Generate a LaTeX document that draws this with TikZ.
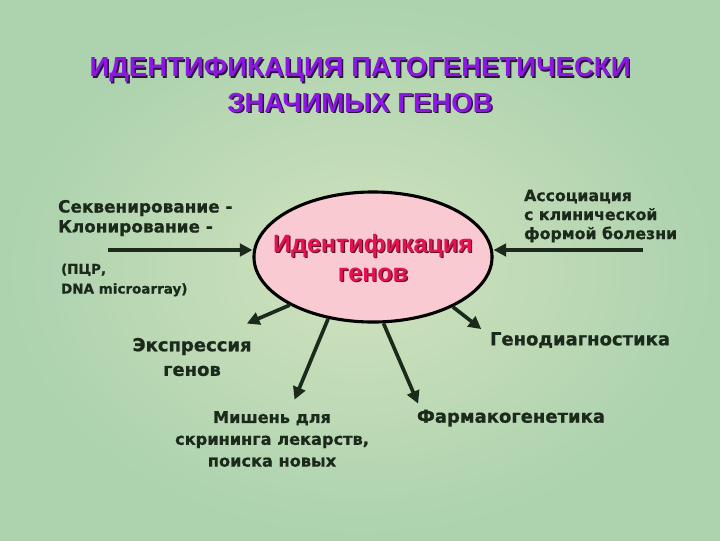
\documentclass[tikz,border=0pt]{standalone}
\usepackage{fontspec}
\setmainfont{Liberation Sans}
\newfontfamily\dejavu[BoldFeatures={FakeBold=0.8}]{DejaVu Sans}
\usetikzlibrary{arrows.meta,shapes.geometric}

\definecolor{bggreen}{RGB}{172,210,174}
\definecolor{bglight}{RGB}{210,226,190}
\definecolor{titleviolet}{RGB}{140,22,228}
\definecolor{titleshade}{RGB}{45,20,60}
\definecolor{genepink}{RGB}{250,202,210}
\definecolor{genered}{RGB}{228,18,80}
\definecolor{geneshade}{RGB}{90,20,40}
\definecolor{inkdark}{RGB}{28,42,28}

\tikzset{
  darktext/.style={text=inkdark, inner sep=2pt, font=\dejavu\bfseries},
  outarrow/.style={draw=inkdark, line width=2.6pt, -{Triangle[length=9pt,width=9pt]}},
}

\begin{document}
\begin{tikzpicture}[x=0.025cm,y=-0.025cm]

\shade[inner color=bglight, outer color=bggreen] (0,0) rectangle (720,540);
\useasboundingbox (0,0) rectangle (720,540);

\node (titlesh) at (361.5,86.5) [align=center, text=titleshade, font=\bfseries\fontsize{19.6}{25}\selectfont] {ИДЕНТИФИКАЦИЯ ПАТОГЕНЕТИЧЕСКИ\\ЗНАЧИМЫХ ГЕНОВ};
\node (title) at (360,85) [align=center, text=titleviolet, font=\bfseries\fontsize{19.6}{25}\selectfont] {ИДЕНТИФИКАЦИЯ ПАТОГЕНЕТИЧЕСКИ\\ЗНАЧИМЫХ ГЕНОВ};

\node (gene) at (373,257) [ellipse, draw=black, line width=2.2pt, fill=genepink, minimum width=5.95cm, minimum height=3.25cm] {};
\node (genesh) at (374.2,259.2) [align=center, text=geneshade, font=\bfseries\fontsize{17.8}{21}\selectfont] {Идентификация\\генов};
\node (genetext) at (373,258) [align=center, text=genered, font=\bfseries\fontsize{17.8}{21}\selectfont] {Идентификация\\генов};

\node (seq) at (55,218) [darktext, anchor=west, align=left, font=\dejavu\bfseries\fontsize{12}{14.2}\selectfont] {Секвенирование -\\Клонирование -};
\node (pcr) at (58,280) [darktext, anchor=west, align=left, font=\dejavu\bfseries\fontsize{9.6}{14}\selectfont] {(ПЦР,\\DNA microarray)};
\node (assoc) at (521,216) [darktext, anchor=west, align=left, font=\dejavu\bfseries\fontsize{11.2}{13.5}\selectfont] {Ассоциация\\с клинической\\формой болезни};

\node (expr) at (192,357) [darktext, align=center, font=\dejavu\bfseries\fontsize{12.8}{17.5}\selectfont] {Экспрессия\\генов};
\node (target) at (272,439) [darktext, align=center, font=\dejavu\bfseries\fontsize{11.5}{15.5}\selectfont] {Мишень для\\скрининга лекарств,\\поиска новых};
\node (diag) at (580,340) [darktext, font=\dejavu\bfseries\fontsize{12.8}{15}\selectfont] {Генодиагностика};
\node (pharm) at (511,418) [darktext, font=\dejavu\bfseries\fontsize{12.8}{15}\selectfont] {Фармакогенетика};

\coordinate (seqstart) at (108,250);
\coordinate (assocstart) at (643,250);

\draw[outarrow] (seqstart) -- (seqstart -| gene.west);
\draw[outarrow] (assocstart) -- (assocstart -| gene.east);

\draw[outarrow] (gene.210) -- ([xshift=39pt,yshift=8pt]expr.north);
\draw[outarrow] (gene.234) -- ([xshift=16pt,yshift=6pt]target.north);
\draw[outarrow] (gene.279) -- ([xshift=3pt,yshift=2pt]pharm.north west);
\draw[outarrow] (gene.328) -- ([xshift=-4pt]diag.north west);

\end{tikzpicture}
\end{document}
